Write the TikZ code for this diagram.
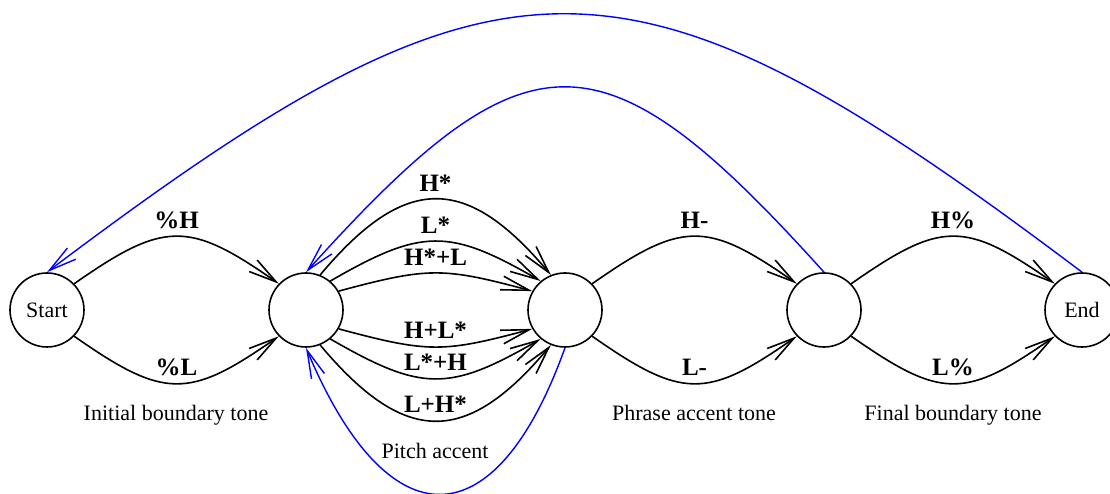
\documentclass[tikz,border=0pt]{standalone}
\usepackage{fontspec}
\setmainfont{Liberation Serif}
\usetikzlibrary{arrows.meta}
\begin{document}
\begin{tikzpicture}[x=1pt,y=1pt,
  state/.style={circle, draw, line width=1.6pt, minimum size=74pt, inner sep=0pt,
    font=\fontsize{22}{26}\selectfont},
  trans/.style={line width=1.6pt, -{Straight Barb[length=28pt,width=14pt]}},
  back/.style={trans, blue, line width=1.4pt},
  lbl/.style={anchor=base, yshift=8pt, inner sep=0pt,
    font=\fontsize{25}{29}\selectfont\bfseries},
  caption/.style={anchor=base, inner sep=0pt, font=\fontsize{22}{26}\selectfont}]
\useasboundingbox (0,0) rectangle (1110,494);

% states
\node[state] (start) at (47,184)   {Start};
\node[state] (ib)    at (306,184)  {};
\node[state] (pa)    at (565,184)  {};
\node[state] (ph)    at (824,184)  {};
\node[state] (end)   at (1082,184) {End};

% initial boundary tones
\draw[trans] (start.44) .. controls +(35:110) and +(145:110) .. (ib.136)
  node[lbl, midway] {\%H};
\draw[trans] (start.-44) .. controls +(-35:110) and +(-145:110) .. (ib.-136)
  node[lbl, midway] {\%L};

% pitch accents
\draw[trans] (ib.68) .. controls +(50:132) and +(130:132) .. (pa.112)
  node[lbl, midway] {H*};
\draw[trans] (ib.50) .. controls +(30:106) and +(150:106) .. (pa.130)
  node[lbl, midway] {L*};
\draw[trans] (ib.30) .. controls +(15:93) and +(165:93) .. (pa.150)
  node[lbl, midway] {H*+L};
\draw[trans] (ib.-30) .. controls +(-15:93) and +(-165:93) .. (pa.-150)
  node[lbl, midway] {H+L*};
\draw[trans] (ib.-50) .. controls +(-30:106) and +(-150:106) .. (pa.-130)
  node[lbl, midway] {L*+H};
\draw[trans] (ib.-68) .. controls +(-50:132) and +(-130:132) .. (pa.-112)
  node[lbl, midway] {L+H*};

% phrase accents
\draw[trans] (pa.44) .. controls +(35:110) and +(145:110) .. (ph.136)
  node[lbl, midway] {H-};
\draw[trans] (pa.-44) .. controls +(-35:110) and +(-145:110) .. (ph.-136)
  node[lbl, midway] {L-};

% final boundary tones
\draw[trans] (ph.44) .. controls +(35:110) and +(145:110) .. (end.136)
  node[lbl, midway] {H\%};
\draw[trans] (ph.-44) .. controls +(-35:110) and +(-145:110) .. (end.-136)
  node[lbl, midway] {L\%};

% loops back
\draw[back] (end.90) .. controls +(143:572) and +(37:572) .. (start.90);
\draw[back] (ph.90) .. controls +(132:332) and +(48:332) .. (ib.90);
\draw[back] (pa.-90) .. controls +(-70,-195) and +(82,-195) .. (ib.-90);

% group captions
\node[caption] (capib) at (176,73) {Initial boundary tone};
\node[caption] (cappa) at (435,35) {Pitch accent};
\node[caption] (capph) at (694,73) {Phrase accent tone};
\node[caption] (capfb) at (953,73) {Final boundary tone};
\end{tikzpicture}
\end{document}
